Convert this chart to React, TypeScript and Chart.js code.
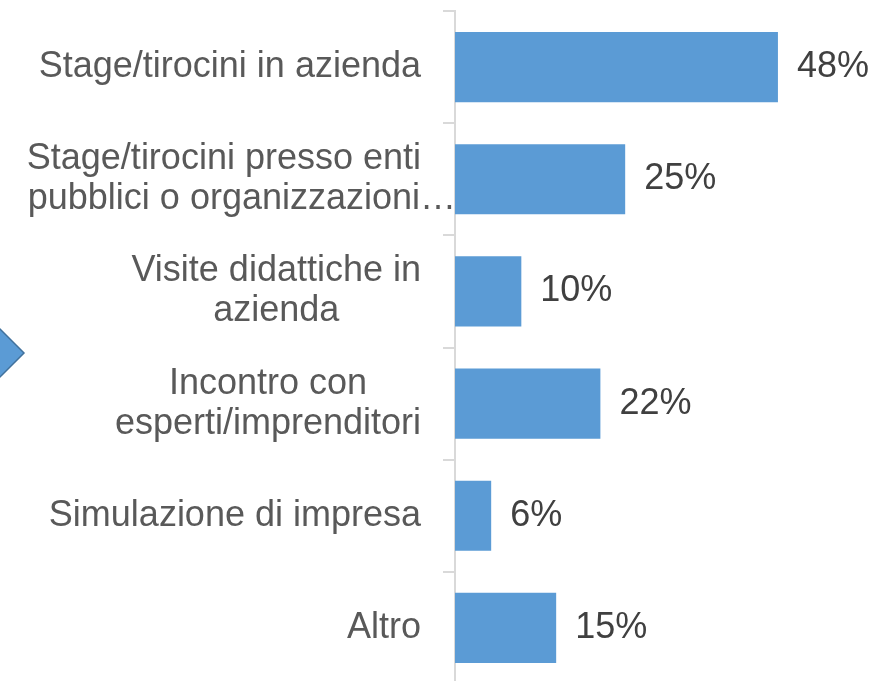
import React, { useEffect, useRef } from "react";
import { Chart, registerables } from "chart.js";

Chart.register(...registerables);

const categories: string[][] = [
  ["Stage/tirocini in azienda"],
  ["Stage/tirocini presso enti", "pubblici o organizzazioni…"],
  ["Visite didattiche in", "azienda"],
  ["Incontro con", "esperti/imprenditori"],
  ["Simulazione di impresa"],
  ["Altro"],
];
const values: number[] = [48.2, 25.4, 9.9, 21.7, 5.4, 15.1];
const valueLabels: string[] = ["48%", "25%", "10%", "22%", "6%", "15%"];

const FONT = "'Liberation Sans', Arial, sans-serif";
const ELLIPSIS = "…";

const arrowPlugin = {
  id: "arrowDeco",
  beforeDraw(chart: any) {
    const ctx = chart.ctx;
    ctx.save();
    ctx.beginPath();
    ctx.moveTo(-6, 323);
    ctx.lineTo(24, 353);
    ctx.lineTo(-6, 383);
    ctx.closePath();
    ctx.fillStyle = "#5B9BD5";
    ctx.fill();
    ctx.lineWidth = 1.5;
    ctx.strokeStyle = "#41719C";
    ctx.stroke();
    ctx.restore();
  },
};

const categoryLabelPlugin = {
  id: "catLabels",
  afterDraw(chart: any) {
    const ctx = chart.ctx;
    const yScale = chart.scales.y;
    const rightEdge = 421;
    const lineH = 40;
    ctx.save();
    ctx.font = `36px ${FONT}`;
    ctx.fillStyle = "#595959";
    ctx.textBaseline = "middle";
    categories.forEach((lines, i) => {
      const y = yScale.getPixelForValue(i);
      const core = lines.map((l) => (l.endsWith(ELLIPSIS) ? l.slice(0, -1) : l));
      const widths = core.map((l) => ctx.measureText(l).width);
      const maxW = Math.max(...widths);
      const cx = rightEdge - maxW / 2;
      core.forEach((line, j) => {
        const ly = y + (j - (lines.length - 1) / 2) * lineH;
        const x0 = cx - widths[j] / 2;
        ctx.textAlign = "left";
        ctx.fillText(line, x0, ly);
        if (lines[j].endsWith(ELLIPSIS)) {
          ctx.fillText(ELLIPSIS, x0 + widths[j], ly);
        }
      });
    });
    ctx.restore();
  },
};

const valueLabelPlugin = {
  id: "valLabels",
  afterDatasetsDraw(chart: any) {
    const ctx = chart.ctx;
    const meta = chart.getDatasetMeta(0);
    ctx.save();
    ctx.font = `36px ${FONT}`;
    ctx.fillStyle = "#404040";
    ctx.textAlign = "left";
    ctx.textBaseline = "middle";
    meta.data.forEach((bar: any, i: number) => {
      ctx.fillText(valueLabels[i], bar.x + 19, bar.y);
    });
    ctx.restore();
  },
};

export default function App() {
  const canvasRef = useRef<HTMLCanvasElement | null>(null);

  useEffect(() => {
    if (!canvasRef.current) return;
    const chart = new Chart(canvasRef.current, {
      type: "bar",
      data: {
        labels: categories.map((c) => c.join(" ")),
        datasets: [
          {
            data: values,
            backgroundColor: "#5B9BD5",
            borderWidth: 0,
            categoryPercentage: 1,
            barPercentage: 0.625,
          },
        ],
      },
      options: {
        indexAxis: "y",
        responsive: false,
        animation: false,
        layout: { padding: { left: 0, top: 11, right: 82, bottom: 6 } },
        plugins: {
          legend: { display: false },
          tooltip: { enabled: false },
        },
        scales: {
          x: { display: false, min: 0, max: 50 },
          y: {
            type: "category",
            grid: {
              display: true,
              drawOnChartArea: false,
              drawTicks: true,
              tickLength: 12,
              color: "#d9d9d9",
              lineWidth: 2,
              offset: true,
            },
            border: { display: true, color: "#d9d9d9", width: 2 },
            ticks: { display: false },
            afterFit(scale: any) {
              scale.width = 455;
            },
          },
        },
      } as any,
      plugins: [arrowPlugin, categoryLabelPlugin, valueLabelPlugin],
    });
    return () => chart.destroy();
  }, []);

  return (
    <div style={{ position: "fixed", left: 0, top: 0, width: 872, height: 690, background: "#fff" }}>
      <canvas ref={canvasRef} width={872} height={690} style={{ display: "block" }} />
    </div>
  );
}
